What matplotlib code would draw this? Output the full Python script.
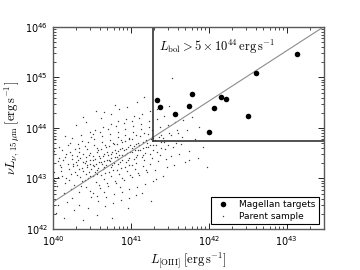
# Mid-IR vs [OIII] luminosity, Magellan targets on top of the parent sample
import numpy as np
import matplotlib
matplotlib.use("Agg")
import matplotlib.pyplot as plt

# Magellan targets (log10 values)
magellan_logx = [41.33, 41.37, 41.56, 43.13, 42.60, 41.78, 41.74, 42.15, 42.22, 42.06, 42.50, 42.00]
magellan_logy = [44.55, 44.42, 44.28, 45.47, 45.09, 44.67, 44.44, 44.61, 44.57, 44.40, 44.24, 43.92]

# parent sample (log10 L[OIII], log10 nuL_nu 15um), estimated by eye
parent_logx = [
    40.02, 40.05, 40.08, 40.01, 40.06, 40.09, 40.03, 40.07, 40.04, 40.08, 40.02, 40.06,
    40.11, 40.14, 40.17, 40.12, 40.19, 40.15, 40.13, 40.18, 40.16, 40.11, 40.19, 40.14, 40.17, 40.12, 40.15,
    40.21, 40.24, 40.27, 40.22, 40.29, 40.25, 40.23, 40.28, 40.26, 40.21, 40.29, 40.24, 40.27, 40.22, 40.28, 40.25, 40.23, 40.26,
    40.31, 40.34, 40.37, 40.32, 40.39, 40.35, 40.33, 40.38, 40.36, 40.31, 40.39, 40.34, 40.37, 40.32, 40.38, 40.35, 40.33, 40.36, 40.31, 40.39, 40.34, 40.37,
    40.41, 40.44, 40.47, 40.42, 40.49, 40.45, 40.43, 40.48, 40.46, 40.41, 40.49, 40.44, 40.47, 40.42, 40.48, 40.45, 40.43, 40.46, 40.41, 40.49, 40.44, 40.47, 40.42, 40.48, 40.45,
    40.51, 40.54, 40.57, 40.52, 40.59, 40.55, 40.53, 40.58, 40.56, 40.51, 40.59, 40.54, 40.57, 40.52, 40.58, 40.55, 40.53, 40.56, 40.51, 40.59, 40.54, 40.57, 40.52, 40.58, 40.55, 40.53, 40.56,
    40.61, 40.64, 40.67, 40.62, 40.69, 40.65, 40.63, 40.68, 40.66, 40.61, 40.69, 40.64, 40.67, 40.62, 40.68, 40.65, 40.63, 40.66, 40.61, 40.69, 40.64, 40.67, 40.62, 40.68, 40.65, 40.63, 40.66, 40.62,
    40.71, 40.74, 40.77, 40.72, 40.79, 40.75, 40.73, 40.78, 40.76, 40.71, 40.79, 40.74, 40.77, 40.72, 40.78, 40.75, 40.73, 40.76, 40.71, 40.79, 40.74, 40.77, 40.72, 40.78, 40.75, 40.73, 40.76, 40.79,
    40.81, 40.84, 40.87, 40.82, 40.89, 40.85, 40.83, 40.88, 40.86, 40.81, 40.89, 40.84, 40.87, 40.82, 40.88, 40.85, 40.83, 40.86, 40.81, 40.89, 40.84, 40.87, 40.82, 40.88, 40.85, 40.83, 40.86,
    40.91, 40.94, 40.97, 40.92, 40.99, 40.95, 40.93, 40.98, 40.96, 40.91, 40.99, 40.94, 40.97, 40.92, 40.98, 40.95, 40.93, 40.96, 40.91, 40.99, 40.94, 40.97, 40.92, 40.98, 40.95, 40.96,
    41.01, 41.04, 41.07, 41.02, 41.09, 41.05, 41.03, 41.08, 41.06, 41.01, 41.09, 41.04, 41.07, 41.02, 41.08, 41.05, 41.03, 41.06, 41.01, 41.09, 41.04, 41.07, 41.02, 41.08,
    41.11, 41.14, 41.17, 41.12, 41.19, 41.15, 41.13, 41.18, 41.16, 41.11, 41.19, 41.14, 41.17, 41.12, 41.18, 41.15, 41.13, 41.16, 41.11, 41.19, 41.14, 41.17,
    41.21, 41.24, 41.27, 41.22, 41.29, 41.25, 41.23, 41.28, 41.26, 41.21, 41.29, 41.24, 41.27, 41.22, 41.28, 41.25, 41.23, 41.26,
    41.31, 41.34, 41.37, 41.32, 41.39, 41.35, 41.33, 41.38, 41.36, 41.31, 41.39, 41.34, 41.37, 41.32,
    41.41, 41.44, 41.47, 41.42, 41.49, 41.45, 41.43, 41.48, 41.46, 41.41, 41.49,
    41.51, 41.54, 41.57, 41.52, 41.59, 41.55, 41.53, 41.58,
    41.61, 41.64, 41.67, 41.62, 41.69, 41.65,
    41.72, 41.75, 41.78, 41.74,
    41.82, 41.86, 41.88,
    41.93, 41.97,
]
parent_logy = [
    43.12, 42.85, 43.41, 43.55, 42.48, 43.27, 43.78, 43.02, 42.31, 43.63, 42.96, 43.35,
    43.22, 42.71, 43.48, 43.05, 43.66, 42.92, 43.37, 42.54, 43.84, 43.14, 43.29, 42.21, 43.01, 43.57, 43.43,
    43.18, 43.46, 42.88, 43.71, 43.33, 42.62, 43.09, 43.58, 43.24, 42.97, 44.05, 43.39, 42.37, 43.52, 43.12, 43.81, 42.79, 43.29,
    43.26, 43.52, 42.94, 43.68, 43.14, 43.41, 42.73, 43.33, 43.87, 43.07, 43.49, 42.48, 43.21, 43.36, 44.21, 43.02, 43.61, 42.86, 43.44, 42.17, 43.18, 43.74,
    43.31, 43.58, 43.05, 43.42, 43.19, 43.73, 42.83, 43.37, 43.12, 43.64, 42.64, 43.26, 43.92, 43.08, 43.51, 42.41, 43.35, 43.47, 42.97, 43.83, 43.22, 42.76, 44.12, 43.29, 43.01,
    43.36, 43.12, 43.61, 43.27, 43.45, 42.93, 43.78, 43.21, 43.52, 42.71, 43.33, 43.96, 43.08, 43.44, 42.55, 43.29, 43.67, 43.16, 43.89, 42.87, 43.39, 42.28, 43.04, 43.57, 44.34, 43.24, 42.66,
    43.41, 43.18, 43.66, 43.32, 43.52, 42.98, 43.84, 43.27, 43.48, 42.81, 43.37, 44.02, 43.11, 43.59, 42.63, 43.35, 43.72, 43.22, 43.93, 42.91, 43.44, 42.45, 43.07, 43.62, 44.31, 43.29, 42.74, 44.19,
    43.46, 43.23, 43.71, 43.37, 43.56, 43.04, 43.88, 43.31, 43.53, 42.86, 43.42, 44.07, 43.16, 43.64, 42.69, 43.41, 43.77, 43.27, 43.98, 42.95, 43.49, 42.52, 43.12, 43.68, 44.28, 43.34, 42.21, 44.46,
    43.51, 43.28, 43.76, 43.42, 43.61, 43.09, 43.93, 43.36, 43.58, 42.92, 43.47, 44.13, 43.21, 43.69, 42.74, 43.46, 43.82, 43.32, 44.04, 43.01, 43.54, 42.58, 43.17, 43.73, 44.37, 43.39, 42.84,
    43.56, 43.33, 43.81, 43.47, 43.66, 43.14, 43.98, 43.41, 43.63, 42.97, 43.52, 44.18, 43.26, 43.74, 42.79, 43.51, 43.87, 43.37, 44.09, 43.06, 43.59, 42.62, 43.22, 43.78, 44.42, 42.41,
    43.61, 43.38, 43.86, 43.52, 43.71, 43.19, 44.03, 43.46, 43.68, 43.02, 43.57, 44.23, 43.31, 43.79, 42.84, 43.56, 43.92, 43.42, 44.14, 43.11, 43.64, 42.68, 43.27, 44.51,
    43.66, 43.43, 43.91, 43.57, 43.76, 43.24, 44.08, 43.51, 43.73, 43.07, 43.62, 44.28, 43.36, 43.84, 42.89, 43.61, 43.97, 43.47, 44.19, 43.16, 42.72, 44.61,
    43.71, 43.48, 43.96, 43.62, 43.81, 43.29, 44.13, 43.56, 43.78, 43.12, 43.67, 44.33, 43.41, 43.89, 42.94, 43.66, 44.02, 42.55,
    43.76, 43.53, 44.01, 43.67, 43.86, 43.34, 44.18, 43.61, 43.83, 43.17, 43.72, 44.38, 43.46, 42.98,
    43.81, 43.58, 44.06, 43.72, 43.91, 43.39, 44.23, 43.66, 43.22, 43.04, 44.43,
    43.86, 43.63, 44.11, 43.44, 43.96, 43.27, 44.99, 43.71,
    43.91, 43.68, 44.16, 43.49, 43.32, 43.82,
    43.96, 43.54, 44.21, 43.37,
    43.78, 43.41, 44.02,
    43.62, 43.23,
]

# selection box corner and the L_bol line
box_x, box_y = 1.9e41, 5.5e43
line_x = [1e40, 3e43]
line_y = [x * 340 for x in line_x]

plt.rcParams["mathtext.fontset"] = "dejavusans"
fig = plt.figure(figsize=(3.6, 2.7), dpi=100)
ax = fig.add_axes([0.147, 0.152, 0.753, 0.748])

ax.plot(10 ** np.array(parent_logx), 10 ** np.array(parent_logy), ".",
        color="0.1", ms=2.0, mew=0, alpha=0.85, label="Parent sample")
ax.plot(line_x, line_y, "-", color="0.55", lw=0.8)
ax.plot([box_x, box_x], [box_y, 1e46], "-", color="0.2", lw=1.2)
ax.plot([box_x, 3e43], [box_y, box_y], "-", color="0.2", lw=1.2)
ax.plot(10 ** np.array(magellan_logx), 10 ** np.array(magellan_logy), "o",
        color="k", ms=4, mew=0, label="Magellan targets")

ax.set_xscale("log")
ax.set_yscale("log")
ax.set_xlim(1e40, 3e43)
ax.set_ylim(1e42, 1e46)

ax.text(2.3e41, 4e45, r"$L_{\rm bol} > 5\times10^{44}\,{\rm erg\,s^{-1}}$",
        fontsize=9, ha="left", va="center", math_fontfamily="cm")
ax.set_xlabel(r"$L_{\rm [OIII]}\;[{\rm erg\,s^{-1}}]$", fontsize=9,
              math_fontfamily="cm", labelpad=2)
ax.set_ylabel(r"$\nu L_{\nu,\,15\,\mu{\rm m}}\;[{\rm erg\,s^{-1}}]$", fontsize=9,
              math_fontfamily="cm", labelpad=2)

ax.tick_params(which="both", direction="in", top=True, right=True, labelsize=7)
ax.tick_params(which="major", length=4, width=0.6)
ax.tick_params(which="minor", length=2, width=0.5)
for s in ax.spines.values():
    s.set_color("0.35")
    s.set_linewidth(1.0)

handles, labels = ax.get_legend_handles_labels()
leg = ax.legend(handles[::-1], labels[::-1], loc="lower right", fontsize=6.5,
                fancybox=False, edgecolor="k", framealpha=1, markerscale=1.0,
                borderpad=0.4, handletextpad=0.8, labelspacing=0.3)
leg.get_frame().set_linewidth(0.8)

fig.savefig("out.png", dpi=100)
